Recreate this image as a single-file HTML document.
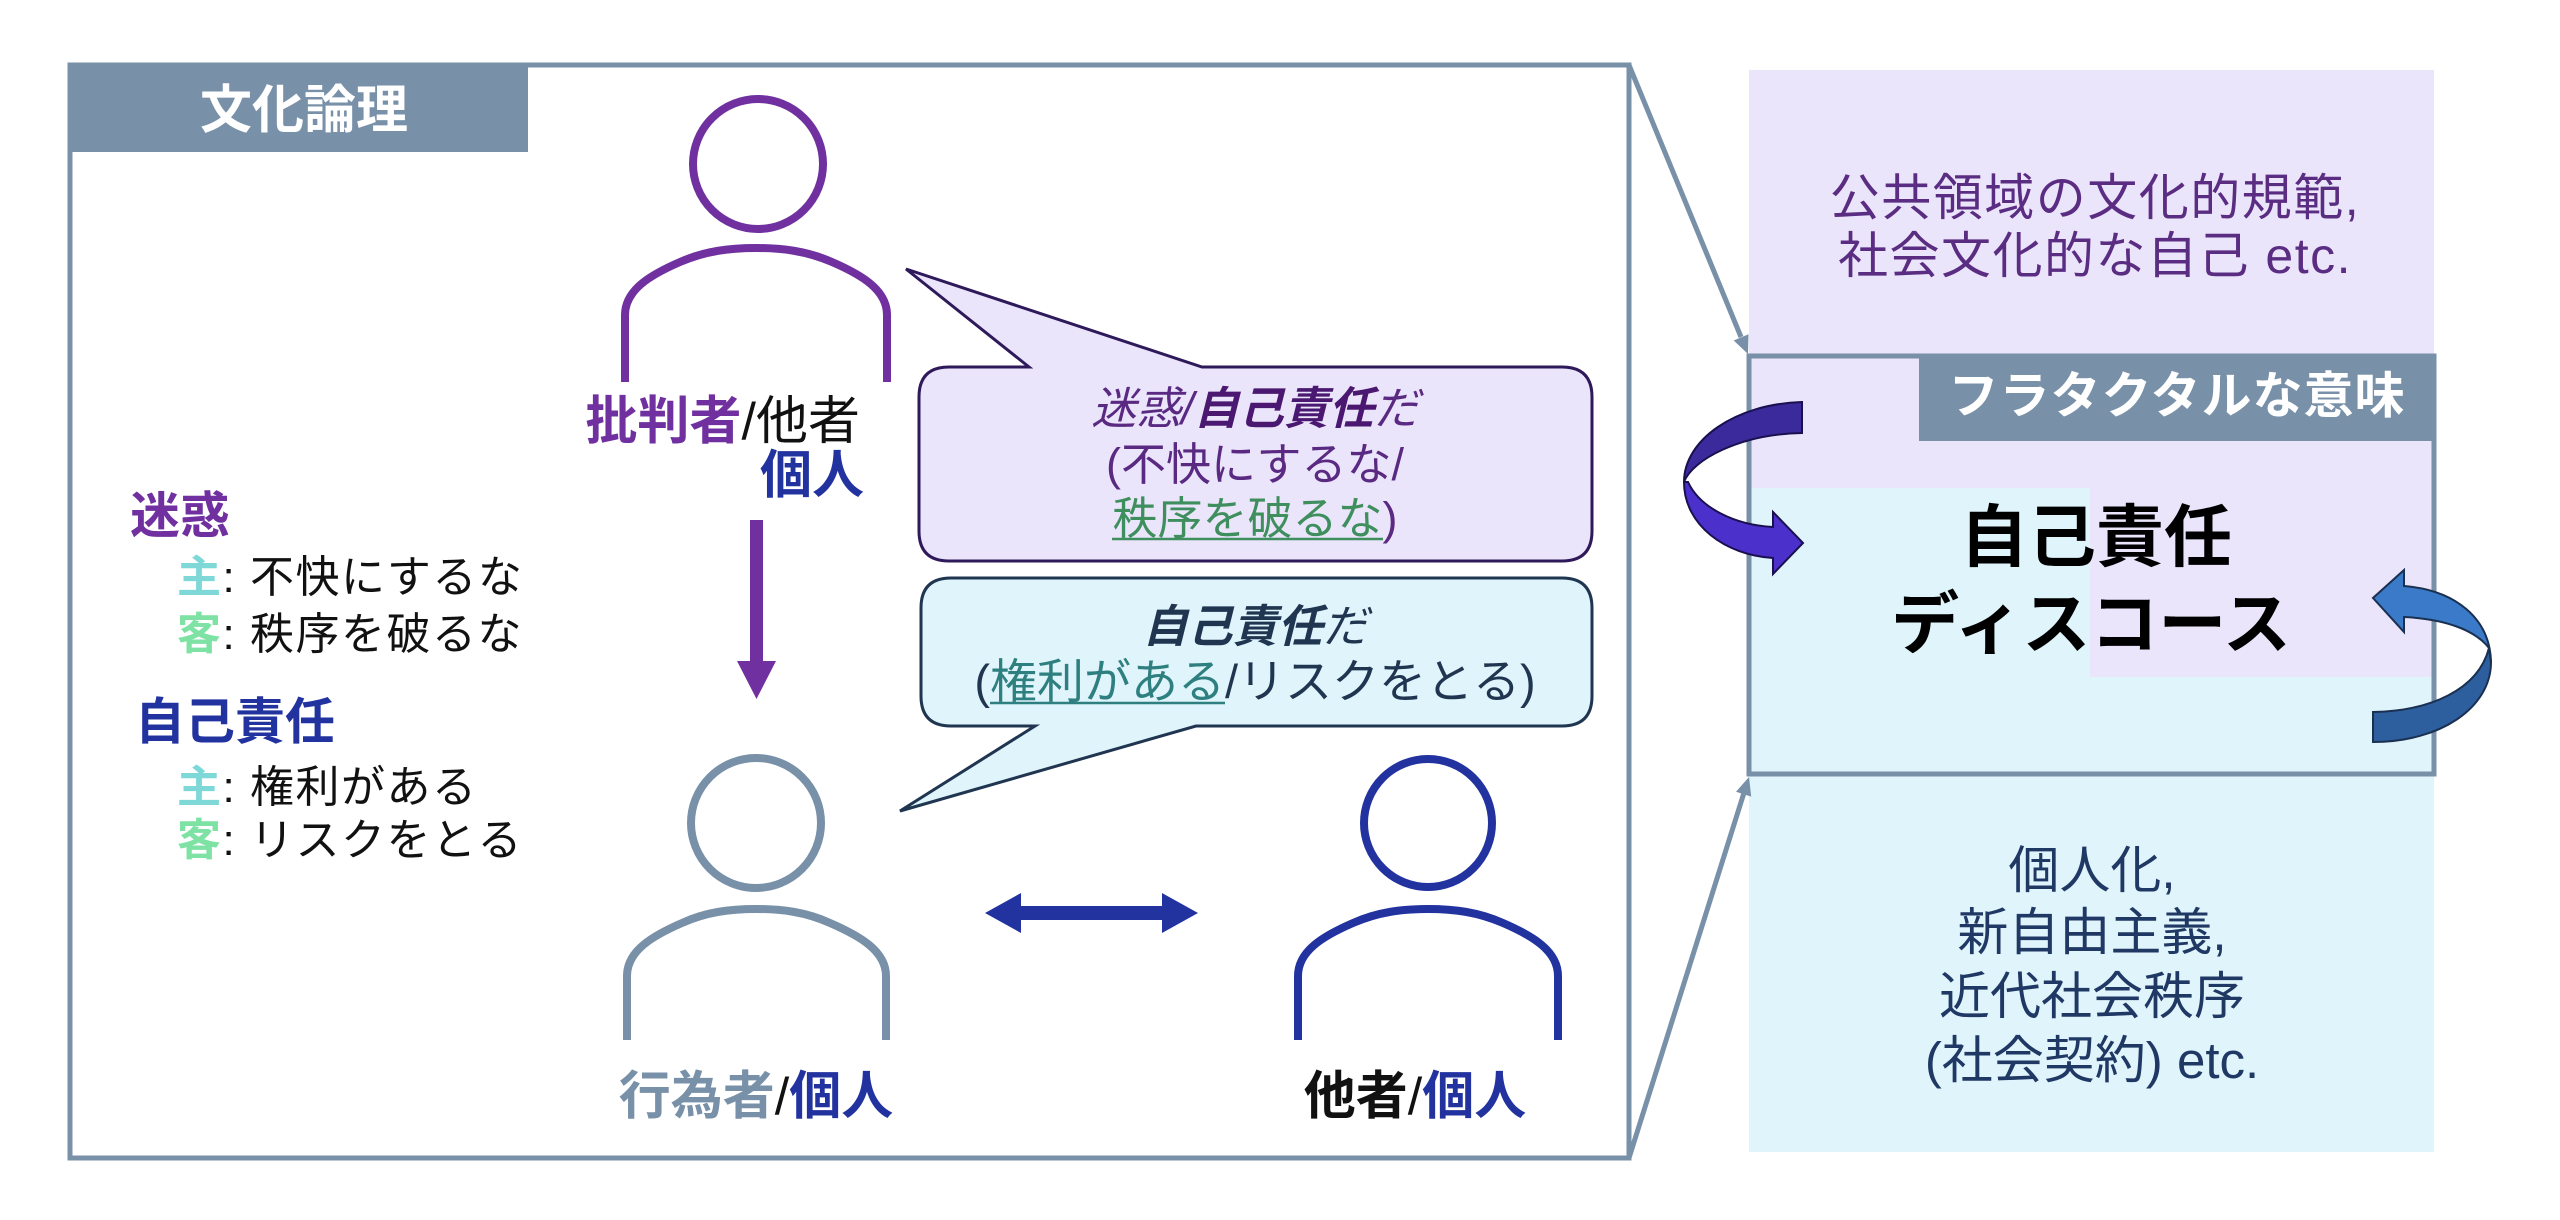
<!DOCTYPE html>
<html>
<head>
<meta charset="utf-8">
<style>
html,body{margin:0;padding:0;background:#fff;}
svg{display:block;}
text{font-family:"Liberation Sans","Noto Sans CJK JP",sans-serif;}
</style>
</head>
<body>
<svg width="2560" height="1220" viewBox="0 0 2560 1220" xmlns="http://www.w3.org/2000/svg">
  <!-- Right side background panels -->
  <rect x="1749" y="70" width="685" height="418" fill="#ebe5fb"/>
  <rect x="1749" y="488" width="685" height="664" fill="#dff4fb"/>
  <rect x="2090" y="488" width="344" height="189" fill="#ebe5fb"/>

  <!-- Big left box -->
  <rect x="70" y="65" width="1559" height="1093" fill="#ffffff" stroke="#7890a8" stroke-width="5"/>
  <rect x="70" y="65" width="458" height="87" fill="#7890a8"/>
  <text x="304" y="128" font-size="52" font-weight="bold" fill="#ffffff" text-anchor="middle">文化論理</text>

  <!-- Middle box border -->
  <rect x="1749" y="356" width="685" height="418" fill="none" stroke="#7890a8" stroke-width="5"/>
  <rect x="1919" y="354" width="517" height="87" fill="#7890a8"/>
  <text x="2177" y="413" font-size="50" font-weight="bold" fill="#ffffff" text-anchor="middle" letter-spacing="1">フラタクタルな意味</text>

  <!-- Connectors -->
  <line x1="1629" y1="65" x2="1741" y2="337" stroke="#7890a8" stroke-width="5"/>
  <polygon points="1748,354 1733.7,340.5 1748.5,334.3" fill="#7890a8"/>
  <line x1="1629" y1="1158" x2="1743.6" y2="794" stroke="#7890a8" stroke-width="5"/>
  <polygon points="1749,777 1751.2,796.6 1736,791.8" fill="#7890a8"/>

  <!-- Person 1 (purple) -->
  <g transform="translate(756,248)" fill="none" stroke="#7030a0" stroke-width="8">
    <circle cx="2" cy="-84" r="65"/>
    <path d="M-131,134 V67 C-131,42 -106,27 -76,14 C-51,3 -26,0 0,0 C26,0 51,3 76,14 C106,27 131,42 131,67 V134"/>
  </g>
  <text x="860" y="439" font-size="52" text-anchor="end"><tspan font-weight="bold" fill="#7030a0">批判者</tspan><tspan fill="#111">/他者</tspan></text>
  <text x="864" y="493" font-size="52" font-weight="bold" fill="#2233a0" text-anchor="end">個人</text>

  <!-- vertical arrow -->
  <polygon points="750,520 763,520 763,661 776,661 756.5,699 737,661 750,661" fill="#7030a0"/>

  <!-- Person 2 (gray) -->
  <g transform="translate(756,909)" fill="none" stroke="#7890a8" stroke-width="8">
    <circle cx="0" cy="-86" r="65"/>
    <path d="M-129,131 V67 C-129,42 -104,27 -74,14 C-50,3 -26,0 0,0 C26,0 50,3 74,14 C104,27 130,42 130,67 V131"/>
  </g>
  <text x="756" y="1114" font-size="52" text-anchor="middle"><tspan font-weight="bold" fill="#7890a8">行為者</tspan><tspan fill="#111">/</tspan><tspan font-weight="bold" fill="#2233a0">個人</tspan></text>

  <!-- Person 3 (blue) -->
  <g transform="translate(1428,909)" fill="none" stroke="#2233a0" stroke-width="8">
    <circle cx="0" cy="-86" r="64"/>
    <path d="M-130,131 V67 C-130,42 -105,27 -75,14 C-50,3 -26,0 0,0 C26,0 50,3 75,14 C105,27 130,42 130,67 V131"/>
  </g>
  <text x="1415" y="1114" font-size="52" text-anchor="middle"><tspan font-weight="bold" fill="#111">他者</tspan><tspan fill="#111">/</tspan><tspan font-weight="bold" fill="#2233a0">個人</tspan></text>

  <!-- double arrow -->
  <polygon points="985,913 1021,893 1021,906 1162,906 1162,893 1198,913 1162,933 1162,920 1021,920 1021,933" fill="#2233a0"/>

  <!-- Left list -->
  <text x="130" y="533" font-size="50" font-weight="bold" fill="#7030a0">迷惑</text>
  <text x="177" y="592" font-size="44" letter-spacing="1.5"><tspan font-weight="bold" fill="#7fd8d8">主</tspan><tspan fill="#111">: 不快にするな</tspan></text>
  <text x="177" y="649" font-size="44" letter-spacing="1.5"><tspan font-weight="bold" fill="#7ee2a4">客</tspan><tspan fill="#111">: 秩序を破るな</tspan></text>
  <text x="135" y="739" font-size="50" font-weight="bold" fill="#2233a0">自己責任</text>
  <text x="177" y="802" font-size="44" letter-spacing="1.5"><tspan font-weight="bold" fill="#7fd8d8">主</tspan><tspan fill="#111">: 権利がある</tspan></text>
  <text x="177" y="855" font-size="44" letter-spacing="1.5"><tspan font-weight="bold" fill="#7ee2a4">客</tspan><tspan fill="#111">: リスクをとる</tspan></text>

  <!-- Bubble 1 -->
  <path d="M949,367 L1029,367 L906,269 L1202,367 L1562,367 Q1592,367 1592,397 L1592,531 Q1592,561 1562,561 L949,561 Q919,561 919,531 L919,397 Q919,367 949,367 Z" fill="#ebe5fb" stroke="#2e1a5a" stroke-width="3" stroke-linejoin="miter"/>
  <text x="1255" y="424" font-size="45" text-anchor="middle"><tspan font-style="italic" fill="#5a2a82">迷惑/</tspan><tspan font-style="italic" font-weight="bold" fill="#4a1870">自己責任</tspan><tspan font-style="italic" fill="#5a2a82">だ</tspan></text>
  <text x="1255" y="480" font-size="45" text-anchor="middle" fill="#5a2a82">(不快にするな/</text>
  <text x="1255" y="534" font-size="45" text-anchor="middle"><tspan fill="#3e8e5e">秩序を破るな</tspan><tspan fill="#5a2a82">)</tspan></text>
  <line x1="1112" y1="539" x2="1383" y2="539" stroke="#3e8e5e" stroke-width="2.5"/>

  <!-- Bubble 2 -->
  <path d="M951,578 L1562,578 Q1592,578 1592,608 L1592,696 Q1592,726 1562,726 L1196,726 L900,811 L1035,726 L951,726 Q921,726 921,696 L921,608 Q921,578 951,578 Z" fill="#dff4fb" stroke="#1f3550" stroke-width="3"/>
  <text x="1255" y="642" font-size="45" text-anchor="middle"><tspan font-style="italic" font-weight="bold" fill="#1f3550">自己責任</tspan><tspan font-style="italic" fill="#1f3550">だ</tspan></text>
  <text x="1255" y="698" font-size="47" text-anchor="middle"><tspan fill="#1f3550">(</tspan><tspan fill="#2e7f7f">権利がある</tspan><tspan fill="#1f3550">/リスクをとる)</tspan></text>
  <line x1="990" y1="703" x2="1225" y2="703" stroke="#2e7f7f" stroke-width="2.5"/>

  <!-- Right texts -->
  <text x="2095" y="215" font-size="50" text-anchor="middle" fill="#5a2d82" letter-spacing="1.5">公共領域の文化的規範,</text>
  <text x="2095" y="273" font-size="50" text-anchor="middle" fill="#5a2d82" letter-spacing="1.5">社会文化的な自己 etc.</text>

  <text x="2096" y="561" font-size="68" font-weight="bold" text-anchor="middle" fill="#000">自己責任</text>
  <text x="2091" y="648" font-size="68" font-weight="bold" text-anchor="middle" fill="#000">ディスコース</text>

  <text x="2092" y="888" font-size="51" text-anchor="middle" fill="#203864">個人化,</text>
  <text x="2092" y="950" font-size="51" text-anchor="middle" fill="#203864">新自由主義,</text>
  <text x="2092" y="1014" font-size="51" text-anchor="middle" fill="#203864">近代社会秩序</text>
  <text x="2092" y="1078" font-size="51" text-anchor="middle" fill="#203864">(社会契約) etc.</text>

  <!-- Left curved arrow (purple) -->
  <path d="M1802,402 C1735,404 1684,440 1684,482 C1692,460 1740,434 1802,433 Z" fill="#3b2a9c" stroke="#1a1050" stroke-width="2"/>
  <path d="M1684,482 C1684,525 1725,555 1773,558 L1773,574 L1803,543 L1773,512 L1773,527 C1735,525 1700,508 1688,482 Z" fill="#4b30cc" stroke="#1a1050" stroke-width="2"/>

  <!-- Right curved arrow (blue) -->
  <path d="M2373,712 C2430,711 2478,690 2489,648 L2491,662 C2491,708 2440,742 2373,742 Z" fill="#2d5f9f" stroke="#1a3050" stroke-width="2"/>
  <path d="M2404,586 L2404,570 L2373,598 L2404,632 L2404,617 C2445,619 2475,630 2489,648 L2491,662 C2490,618 2455,590 2404,586 Z" fill="#3a7ac8" stroke="#1a3050" stroke-width="2"/>
</svg>
</body>
</html>
